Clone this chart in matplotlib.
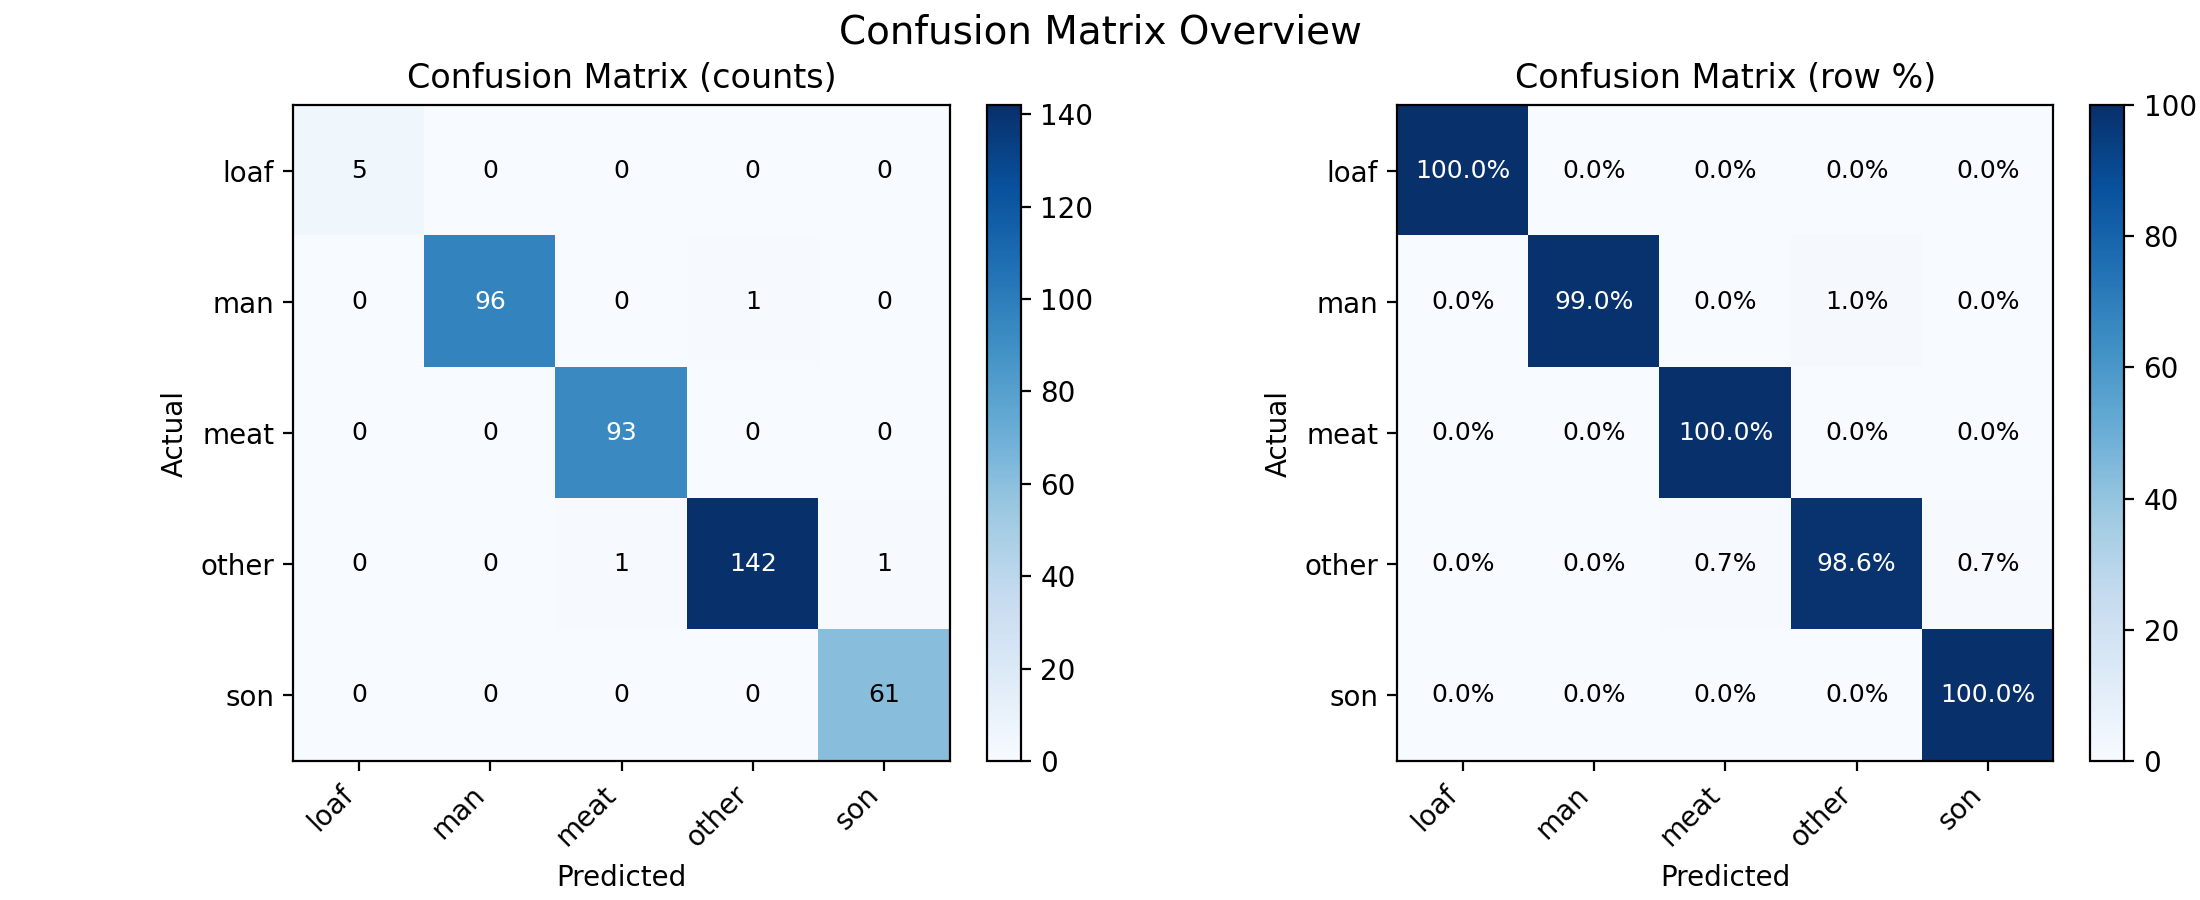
import numpy as np
import matplotlib.pyplot as plt

labels = ["loaf", "man", "meat", "other", "son"]
counts = np.array([
    [5, 0, 0, 0, 0],
    [0, 96, 0, 1, 0],
    [0, 0, 93, 0, 0],
    [0, 0, 1, 142, 1],
    [0, 0, 0, 0, 61],
])

row_pct = counts / counts.sum(axis=1, keepdims=True) * 100

fig = plt.figure(figsize=(11, 4.5), dpi=200)

# positions picked to match the reference layout
ax1 = fig.add_axes([0.1332, 0.1544, 0.2986, 0.7289])
cax1 = fig.add_axes([0.4486, 0.1544, 0.0155, 0.7289])
ax2 = fig.add_axes([0.635, 0.1544, 0.2986, 0.7289])
cax2 = fig.add_axes([0.950, 0.1544, 0.0155, 0.7289])

for ax, cax, mat, title, fmt in [
    (ax1, cax1, counts, "Confusion Matrix (counts)", "{:d}"),
    (ax2, cax2, row_pct, "Confusion Matrix (row %)", "{:.1f}%"),
]:
    vmax = mat.max()
    im = ax.imshow(mat, cmap="Blues", vmin=0, vmax=vmax)
    fig.colorbar(im, cax=cax)
    ax.set_title(title, fontsize=12)
    ax.set_xticks(range(len(labels)))
    ax.set_yticks(range(len(labels)))
    ax.set_xticklabels(labels, rotation=45, ha="right")
    ax.set_yticklabels(labels)
    ax.set_xlabel("Predicted")
    ax.set_ylabel("Actual")
    thresh = vmax / 2
    for i in range(mat.shape[0]):
        for j in range(mat.shape[1]):
            v = mat[i, j]
            ax.text(j, i, fmt.format(v), ha="center", va="center",
                    fontsize=9, color="white" if v > thresh else "black")

fig.suptitle("Confusion Matrix Overview", fontsize=14, y=0.985)
fig.savefig("out.png")
